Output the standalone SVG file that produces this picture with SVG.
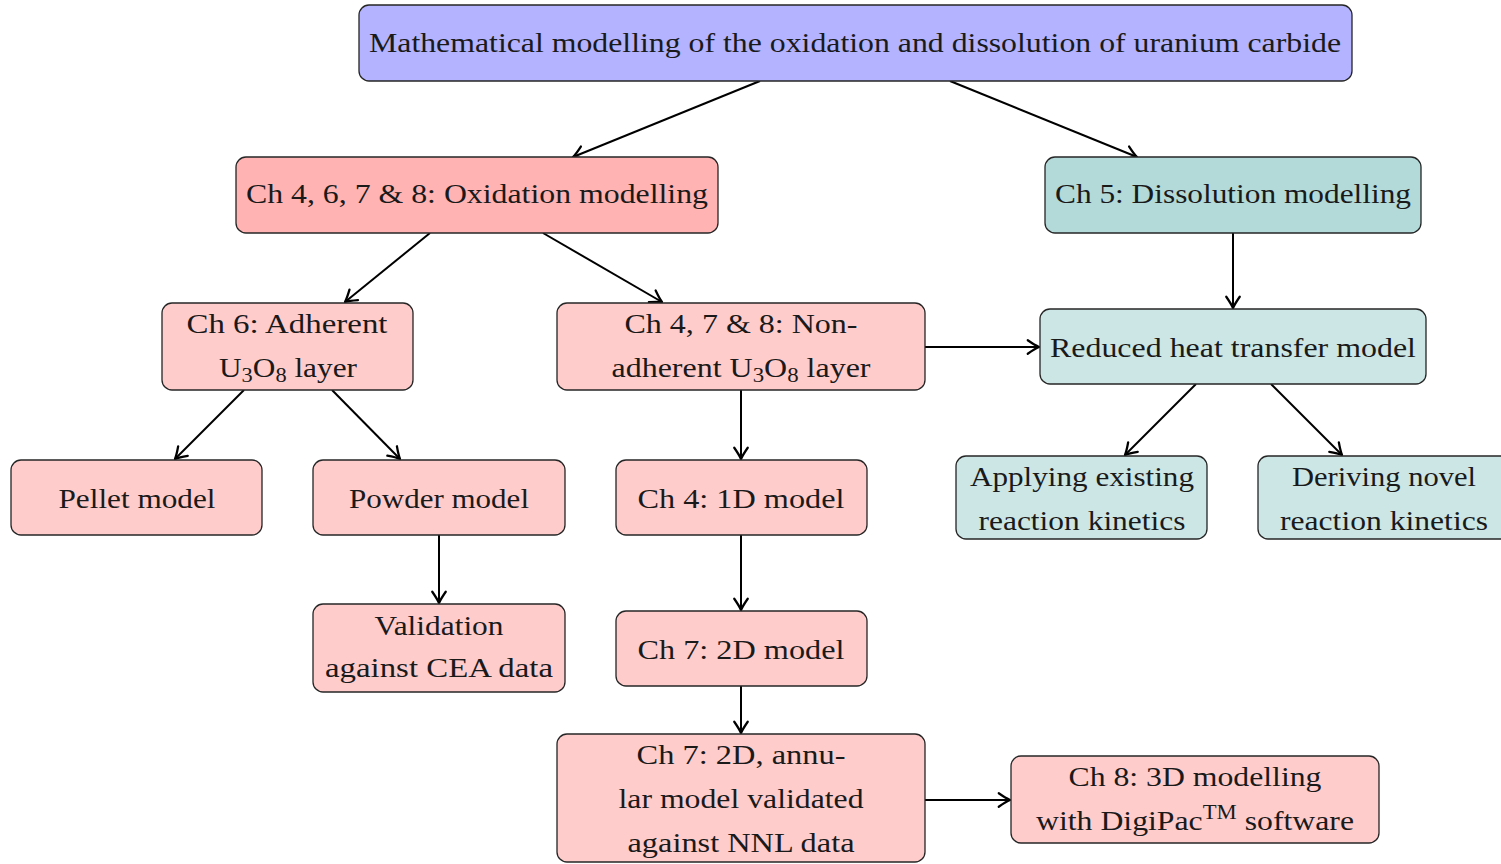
<svg xmlns="http://www.w3.org/2000/svg" width="1501" height="864" viewBox="0 0 1501 864">
<style>
.b{stroke:#262626;stroke-width:1.3}
.top{fill:#b3b3ff}
.ox{fill:#ffb3b3}
.oxs{fill:#ffcccc}
.ds{fill:#b3d9d9}
.dss{fill:#cce6e6}
text{font-family:"Liberation Serif","DejaVu Serif",serif;font-size:28px;fill:#1a1a1a;text-anchor:middle}
.sub{font-size:20px}
.sup{font-size:20px}
#edges line{stroke:#000;stroke-width:2;fill:none;marker-end:url(#ah)}
</style>
<defs>
<marker id="ah" markerUnits="userSpaceOnUse" markerWidth="18" markerHeight="18" viewBox="-12 -8 14 16" refX="0" refY="0" orient="auto">
<path d="M -10,-6 Q -3.5,-1.5 0,0 Q -3.5,1.5 -10,6" fill="none" stroke="#000" stroke-width="2" stroke-linecap="round" stroke-linejoin="round"/>
</marker>
</defs>
<rect width="1501" height="864" fill="#fff"/>
<g id="edges">
<line x1="760" y1="81" x2="573" y2="157"/>
<line x1="950" y1="81" x2="1137" y2="157"/>
<line x1="430" y1="233" x2="345" y2="302"/>
<line x1="543" y1="233" x2="662" y2="302"/>
<line x1="1233" y1="233" x2="1233" y2="308"/>
<line x1="925" y1="347" x2="1039" y2="347"/>
<line x1="244" y1="390" x2="175" y2="459"/>
<line x1="332" y1="390" x2="400" y2="459"/>
<line x1="741" y1="390" x2="741" y2="459"/>
<line x1="1196" y1="384" x2="1125" y2="455"/>
<line x1="1271" y1="384" x2="1342" y2="455"/>
<line x1="439" y1="535" x2="439" y2="603"/>
<line x1="741" y1="535" x2="741" y2="610"/>
<line x1="741" y1="686" x2="741" y2="733"/>
<line x1="925" y1="800" x2="1010" y2="800"/>
</g>
<g id="n-top"><rect class="b top" x="359" y="5" width="993" height="76" rx="10"/>
<text x="855" y="52" textLength="972" lengthAdjust="spacingAndGlyphs">Mathematical modelling of the oxidation and dissolution of uranium carbide</text></g>
<g id="n-ox"><rect class="b ox" x="236" y="157" width="482" height="76" rx="10"/>
<text x="477" y="203" textLength="462" lengthAdjust="spacingAndGlyphs">Ch 4, 6, 7 &amp; 8:  Oxidation modelling</text></g>
<g id="n-ds"><rect class="b ds" x="1045" y="157" width="376" height="76" rx="10"/>
<text x="1233" y="203" textLength="356" lengthAdjust="spacingAndGlyphs">Ch 5:  Dissolution modelling</text></g>
<g id="n-adh"><rect class="b oxs" x="162" y="303" width="251" height="87" rx="10"/>
<text x="287" y="333" textLength="201" lengthAdjust="spacingAndGlyphs">Ch 6:  Adherent</text>
<text x="288" y="377" textLength="138" lengthAdjust="spacingAndGlyphs">U<tspan class="sub" dy="5">3</tspan><tspan dy="-5">O</tspan><tspan class="sub" dy="5">8</tspan><tspan dy="-5"> layer</tspan></text></g>
<g id="n-nadh"><rect class="b oxs" x="557" y="303" width="368" height="87" rx="10"/>
<text x="741" y="333" textLength="233" lengthAdjust="spacingAndGlyphs">Ch 4, 7 &amp; 8:  Non-</text>
<text x="741" y="377" textLength="259" lengthAdjust="spacingAndGlyphs">adherent U<tspan class="sub" dy="5">3</tspan><tspan dy="-5">O</tspan><tspan class="sub" dy="5">8</tspan><tspan dy="-5"> layer</tspan></text></g>
<g id="n-rht"><rect class="b dss" x="1040" y="309" width="386" height="75" rx="10"/>
<text x="1233" y="357" textLength="366" lengthAdjust="spacingAndGlyphs">Reduced heat transfer model</text></g>
<g id="n-pellet"><rect class="b oxs" x="11" y="460" width="251" height="75" rx="10"/>
<text x="137" y="508" textLength="157" lengthAdjust="spacingAndGlyphs">Pellet model</text></g>
<g id="n-powder"><rect class="b oxs" x="313" y="460" width="252" height="75" rx="10"/>
<text x="439" y="508" textLength="180" lengthAdjust="spacingAndGlyphs">Powder model</text></g>
<g id="n-1d"><rect class="b oxs" x="616" y="460" width="251" height="75" rx="10"/>
<text x="741" y="508" textLength="207" lengthAdjust="spacingAndGlyphs">Ch 4:  1D model</text></g>
<g id="n-apply"><rect class="b dss" x="956" y="456" width="251" height="83" rx="10"/>
<text x="1082" y="486" textLength="224" lengthAdjust="spacingAndGlyphs">Applying existing</text>
<text x="1082" y="530" textLength="207" lengthAdjust="spacingAndGlyphs">reaction kinetics</text></g>
<g id="n-derive"><rect class="b dss" x="1258" y="456" width="260" height="83" rx="10"/>
<text x="1384" y="486" textLength="184" lengthAdjust="spacingAndGlyphs">Deriving novel</text>
<text x="1384" y="530" textLength="208" lengthAdjust="spacingAndGlyphs">reaction kinetics</text></g>
<g id="n-valid"><rect class="b oxs" x="313" y="604" width="252" height="88" rx="10"/>
<text x="439" y="635" textLength="129" lengthAdjust="spacingAndGlyphs">Validation</text>
<text x="439" y="677" textLength="228" lengthAdjust="spacingAndGlyphs">against CEA data</text></g>
<g id="n-2d"><rect class="b oxs" x="616" y="611" width="251" height="75" rx="10"/>
<text x="741" y="659" textLength="207" lengthAdjust="spacingAndGlyphs">Ch 7:  2D model</text></g>
<g id="n-annular"><rect class="b oxs" x="557" y="734" width="368" height="128" rx="10"/>
<text x="741" y="764" textLength="209" lengthAdjust="spacingAndGlyphs">Ch 7:  2D, annu-</text>
<text x="741" y="808" textLength="245" lengthAdjust="spacingAndGlyphs">lar model validated</text>
<text x="741" y="852" textLength="227" lengthAdjust="spacingAndGlyphs">against NNL data</text></g>
<g id="n-3d"><rect class="b oxs" x="1011" y="756" width="368" height="87" rx="10"/>
<text x="1195" y="786" textLength="253" lengthAdjust="spacingAndGlyphs">Ch 8:  3D modelling</text>
<text x="1195" y="830" textLength="318" lengthAdjust="spacingAndGlyphs">with DigiPac<tspan class="sup" dy="-11">TM</tspan><tspan dy="11"> software</tspan></text></g>
</svg>
